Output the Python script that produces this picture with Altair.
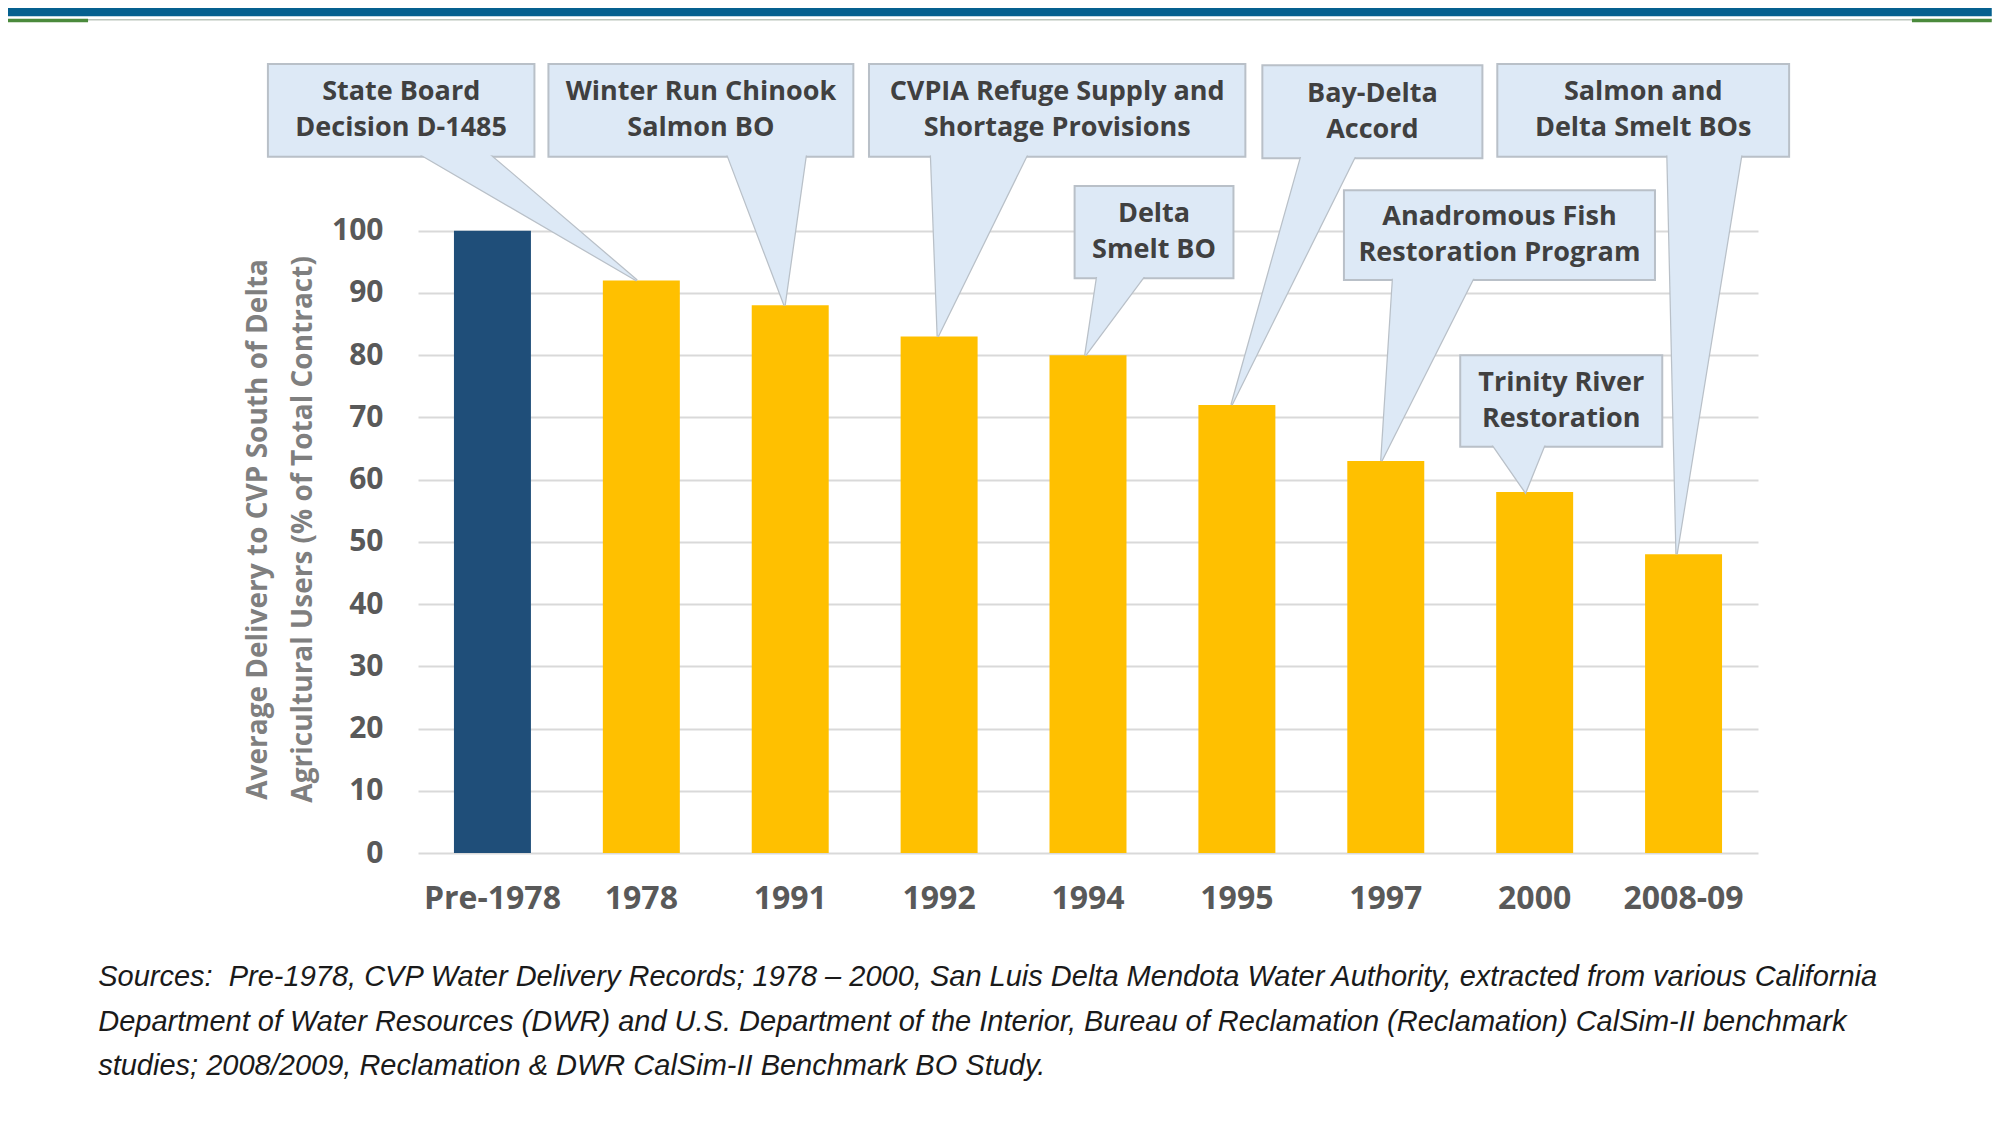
import altair as alt
import pandas as pd

# ---------------- data ----------------
categories = ["Pre-1978", "1978", "1991", "1992", "1994", "1995", "1997", "2000", "2008-09"]
values = [100, 92, 88, 83, 80, 72, 63, 58, 48]
groups = ["pre", "post", "post", "post", "post", "post", "post", "post", "post"]
y_ticks = [0, 10, 20, 30, 40, 50, 60, 70, 80, 90, 100]

y_title_lines = ["Average Delivery to CVP South of Delta",
                 "Agricultural Users (% of Total Contract)"]

callout_text = [
    "State Board\nDecision D-1485",
    "Winter Run Chinook\nSalmon BO",
    "CVPIA Refuge Supply and\nShortage Provisions",
    "Delta\nSmelt BO",
    "Bay-Delta\nAccord",
    "Salmon and\nDelta Smelt BOs",
    "Anadromous Fish\nRestoration Program",
    "Trinity River\nRestoration",
]
callout_target = ["1978", "1991", "1992", "1994", "1995", "2008-09", "1997", "2000"]
# callout box extents in (category index, percent) units
box_x1 = [-1.508, 0.376, 2.529, 3.910, 5.171, 6.749, 5.719, 6.500]
box_x2 = [0.282, 2.424, 5.057, 4.977, 6.649, 8.709, 7.808, 7.857]
box_top = [126.8, 126.8, 126.8, 107.2, 126.6, 126.8, 106.5, 80.0]
box_bottom = [111.9, 111.9, 111.9, 92.35, 111.64, 111.9, 92.08, 65.29]
tail_left = [-0.456, 1.583, 2.946, 4.060, 5.429, 7.892, 6.048, 6.727]
tail_right = [-0.003, 2.103, 3.584, 4.367, 5.787, 8.386, 6.582, 7.061]
tail_tip = [0.970, 1.962, 2.991, 3.982, 4.964, 7.953, 5.970, 6.938]

source_lines = [
    "Sources:\u00a0 Pre-1978, CVP Water Delivery Records; 1978 \u2013 2000, San Luis Delta Mendota Water Authority, extracted from various California",
    "Department of Water Resources (DWR) and U.S. Department of the Interior, Bureau of Reclamation (Reclamation) CalSim-II benchmark",
    "studies; 2008/2009, Reclamation & DWR CalSim-II Benchmark BO Study.",
]

# ---------------- tables ----------------
bar_df = pd.DataFrame({"category": categories, "value": values, "group": groups})
val_of = dict(zip(categories, values))

box_df = pd.DataFrame({
    "label": callout_text, "x1": box_x1, "x2": box_x2,
    "top": box_top, "bottom": box_bottom,
})
box_df["cx"] = (box_df["x1"] + box_df["x2"]) / 2
box_df["cy"] = (box_df["top"] + box_df["bottom"]) / 2

tail_rows, cover_rows = [], []
d = 0.6
for i in range(len(callout_text)):
    tv = val_of[callout_target[i]]
    yb = box_bottom[i]
    tail_rows.append({"id": i, "y": yb, "xa": tail_left[i], "xb": tail_right[i]})
    tail_rows.append({"id": i, "y": tv, "xa": tail_tip[i], "xb": tail_tip[i]})
    k = d / (yb - tv)
    cover_rows.append({"id": i, "y": yb + d,
                       "xa": tail_left[i] + (tail_left[i] - tail_tip[i]) * k,
                       "xb": tail_right[i] + (tail_right[i] - tail_tip[i]) * k})
    cover_rows.append({"id": i, "y": tv, "xa": tail_tip[i], "xb": tail_tip[i]})
tail_df = pd.DataFrame(tail_rows)
cover_df = pd.DataFrame(cover_rows)

ytitle_df = pd.DataFrame({"t": y_title_lines, "x": [-1.569, -1.268], "y": [52.0, 52.0]})
src_df = pd.DataFrame({"t": source_lines, "x": [-2.648] * 3, "y": [-20.0, -27.15, -34.3]})

header_df = pd.DataFrame({"x1": [-3.254], "x2": [10.07], "y1": [135.85], "y2": [134.45]})
thin_df = pd.DataFrame({"x1": [-3.254], "x2": [10.07], "y1": [133.95], "y2": [133.8]})
green_df = pd.DataFrame({"x1": [-3.254, 9.534], "x2": [-2.716, 10.07],
                         "y1": [134.05, 134.05], "y2": [133.5, 133.5]})

# ---------------- scales / axes ----------------
yscale = alt.Scale(domain=[0, 130], nice=False, zero=False)
xq = alt.Scale(domain=[-0.5, 8.5], nice=False, zero=False)

FONT = "Open Sans"
BOX_FILL = "#dde9f6"
BOX_STROKE = "#b9c0c8"

yaxis = alt.Axis(title=None, values=y_ticks, domain=False, ticks=False, tickSize=0,
                 labelPadding=35, labelFont=FONT, labelFontWeight="bold",
                 labelFontSize=30, labelColor="#595959",
                 grid=True, gridColor="#d9d9d9", gridWidth=2)


def Yq(field):
    return alt.Y(field, scale=yscale, axis=yaxis)


bars = alt.Chart(bar_df).mark_bar().encode(
    x=alt.X("category:N", sort=categories,
            scale=alt.Scale(paddingInner=0.483, paddingOuter=0.2415),
            axis=alt.Axis(title=None, labelAngle=0, domain=False, ticks=False, tickSize=0,
                          labelPadding=45, labelBaseline="middle",
                          labelFont=FONT, labelFontWeight="bold", labelFontSize=32,
                          labelColor="#595959", grid=False)),
    y=Yq("value:Q"),
    color=alt.Color("group:N", scale=alt.Scale(domain=["pre", "post"],
                                               range=["#1f4e79", "#ffc000"]), legend=None),
)


def rect_layer(df, color):
    return alt.Chart(df).mark_rect(color=color).encode(
        x=alt.X("x1:Q", scale=xq, axis=None), x2="x2:Q",
        y=Yq("y1:Q"), y2="y2:Q",
    )


header = rect_layer(header_df, "#05608f")
thin = rect_layer(thin_df, "#7a8a7a")
green = rect_layer(green_df, "#4b8a3c")

boxes = alt.Chart(box_df).mark_rect(fill=BOX_FILL, stroke=BOX_STROKE, strokeWidth=2).encode(
    x=alt.X("x1:Q", scale=xq, axis=None), x2="x2:Q",
    y=Yq("top:Q"), y2="bottom:Q",
)

tails = alt.Chart(tail_df).mark_area(orient="horizontal", fill=BOX_FILL, stroke=BOX_STROKE,
                                     strokeWidth=2.5, opacity=1).encode(
    y=Yq("y:Q"),
    x=alt.X("xa:Q", scale=xq, axis=None), x2="xb:Q",
    detail="id:N",
)

covers = alt.Chart(cover_df).mark_area(orient="horizontal", fill=BOX_FILL, opacity=1).encode(
    y=Yq("y:Q"),
    x=alt.X("xa:Q", scale=xq, axis=None), x2="xb:Q",
    detail="id:N",
)

box_text = alt.Chart(box_df).mark_text(font=FONT, fontWeight="bold", fontSize=27,
                                       color="#404040", lineBreak="\n", lineHeight=36,
                                       align="center", baseline="middle", dy=-18).encode(
    x=alt.X("cx:Q", scale=xq, axis=None),
    y=Yq("cy:Q"),
    text="label:N",
)

ytitle = alt.Chart(ytitle_df).mark_text(font=FONT, fontWeight="bold", fontSize=28,
                                        color="#7f7f7f", angle=270,
                                        align="center", baseline="middle").encode(
    x=alt.X("x:Q", scale=xq, axis=None),
    y=Yq("y:Q"),
    text="t:N",
)

src = alt.Chart(src_df).mark_text(font="Liberation Sans", fontStyle="italic", fontSize=29,
                                  color="#1a1a1a", align="left", baseline="middle").encode(
    x=alt.X("x:Q", scale=xq, axis=None),
    y=Yq("y:Q"),
    text="t:N",
)

chart = alt.layer(
    bars, header, thin, green, boxes, tails, covers, box_text, ytitle, src
).resolve_scale(x="independent").properties(
    width=1340, height=809,
    autosize=alt.AutoSizeParams(type="none"),
    padding={"left": 410, "top": 36, "right": 234, "bottom": 260},
    background="white",
).configure_view(stroke=None)

chart.save("out.html", embed_options={"renderer": "svg", "actions": False})
